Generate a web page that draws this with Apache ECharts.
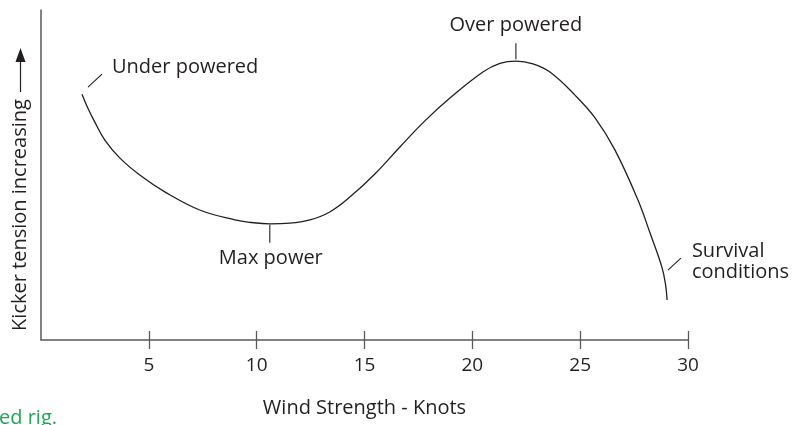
<!DOCTYPE html>
<html>
<head>
<meta charset="utf-8">
<script src="https://cdn.jsdelivr.net/npm/echarts@6/dist/echarts.min.js"></script>
<style>
  html, body { margin: 0; padding: 0; background: #fff; }
  #chart { width: 793px; height: 425px; }
</style>
</head>
<body>
<div id="chart"></div>
<script>
// Kicker tension against wind strength
const windKnots = [1.9, 2.17, 2.49, 2.96, 3.65, 4.58, 5.74, 7.36, 8.99, 9.77, 10.61, 11.54, 12.47, 13.39, 14.32, 15.48, 16.64, 17.8, 18.96, 20.49, 21.28, 22.02, 22.81, 23.6, 24.76, 25.69, 26.61, 27.68, 28.24, 28.79, 28.96, 29.03];
const tension   = [74.5, 70.3, 66.1, 60.6, 55.2, 50.0, 44.9, 39.4, 36.4, 35.6, 35.2, 35.4, 36.4, 38.8, 43.3, 50.3, 58.5, 66.4, 73.3, 81.2, 83.8, 84.5, 83.7, 81.2, 74.2, 67.3, 57.6, 42.4, 32.4, 22.1, 16.8, 12.1];

// x axis ticks (knots)
const xTicks = [5, 10, 15, 20, 25, 30];

// callouts: label and the curve point each one points at
const annoLabels = ['Under powered', 'Over powered', 'Max power', 'Survival\nconditions'];
const annoIndex  = [0, 21, 10, 29];

// leader line offsets [x1, y1, x2, y2] and text offset, in pixels from the curve point
const annoLayout = [
  { lead: [6, -7, 20, -20], text: [30, -27], align: 'left' },
  { lead: [0, -2, 0, -18], text: [0, -36], align: 'center' },
  { lead: [0, 1, 0, 19], text: [1, 34], align: 'center' },
  { lead: [6, 3, 19, -9], text: [30, -5], align: 'left' }
];

const ink = '#231f20';
const axisGrey = '#58595b';
const font = '"Open Sans", "Noto Sans", sans-serif';

const chart = echarts.init(document.getElementById('chart'), null, { renderer: 'canvas' });

const tickStyle = { color: axisGrey, width: 1.3 };

chart.setOption({
  animation: false,
  backgroundColor: '#fff',
  grid: { left: 41, right: 105, top: 10, bottom: 85 },
  xAxis: [
    {
      type: 'value', position: 'bottom', min: 0, max: 30, interval: 5,
      axisLine: { show: true, lineStyle: { color: axisGrey, width: 1.5 } },
      axisTick: { show: true, inside: true, length: 9, customValues: xTicks, lineStyle: tickStyle },
      axisLabel: { customValues: xTicks, color: ink, fontFamily: font, fontSize: 19, margin: 16 },
      splitLine: { show: false },
      name: 'Wind Strength - Knots', nameLocation: 'middle', nameGap: 58,
      nameTextStyle: { color: ink, fontFamily: font, fontSize: 20 }
    },
    {
      type: 'value', position: 'bottom', min: 0, max: 30, interval: 5,
      axisLine: { show: false },
      axisTick: { show: true, inside: false, length: 9, customValues: xTicks, lineStyle: tickStyle },
      axisLabel: { show: false },
      splitLine: { show: false }
    }
  ],
  yAxis: {
    type: 'value', min: 0, max: 100,
    axisLine: { show: true, lineStyle: { color: axisGrey, width: 1.5 } },
    axisTick: { show: false },
    axisLabel: { show: false },
    splitLine: { show: false }
  },
  graphic: [
    {
      type: 'text', x: 20, y: 215, rotation: Math.PI / 2,
      style: { text: 'Kicker tension increasing', fill: ink, fontFamily: font, fontSize: 20, align: 'center', verticalAlign: 'middle' }
    },
    { type: 'line', shape: { x1: 20.5, y1: 92, x2: 20.5, y2: 60 }, style: { stroke: ink, lineWidth: 1.2 } },
    { type: 'polygon', shape: { points: [[20.5, 48], [15.5, 62], [25.5, 62]] }, style: { fill: ink } },
    {
      type: 'text', x: -1, y: 408,
      style: { text: 'ed rig.', fill: '#1fa557', fontFamily: font, fontSize: 20, align: 'left', verticalAlign: 'top' }
    }
  ],
  series: [
    {
      type: 'line',
      xAxisIndex: 0,
      data: windKnots.map((k, i) => [k, tension[i]]),
      smooth: 0.4,
      symbol: 'none',
      lineStyle: { color: ink, width: 1.3 }
    },
    {
      type: 'custom',
      xAxisIndex: 0,
      clip: false,
      data: annoIndex.map(i => [windKnots[i], tension[i]]),
      renderItem: function (params, api) {
        const L = annoLayout[params.dataIndex];
        const p = api.coord([api.value(0), api.value(1)]);
        return {
          type: 'group',
          children: [
            {
              type: 'line',
              shape: { x1: p[0] + L.lead[0], y1: p[1] + L.lead[1], x2: p[0] + L.lead[2], y2: p[1] + L.lead[3] },
              style: { stroke: ink, lineWidth: 1.1 }
            },
            {
              type: 'text',
              x: p[0] + L.text[0], y: p[1] + L.text[1],
              style: {
                text: annoLabels[params.dataIndex], fill: ink,
                fontFamily: font, fontSize: 20, lineHeight: 21,
                align: L.align, verticalAlign: 'middle'
              }
            }
          ]
        };
      }
    }
  ]
});
</script>
</body>
</html>
